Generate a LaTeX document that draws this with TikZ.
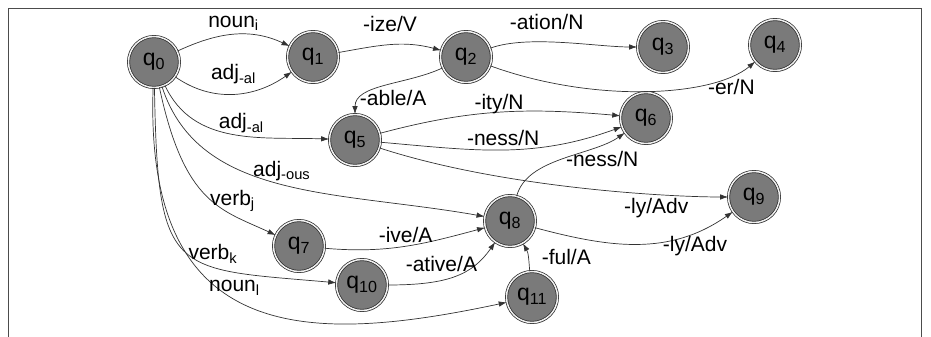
\documentclass[tikz,border=0pt]{standalone}
\usepackage{fontspec}
\setmainfont{Liberation Sans}
\usetikzlibrary{arrows.meta,shadows}

\begin{document}
\begin{tikzpicture}[x=1pt,y=1pt,font=\fontsize{21}{24}\selectfont,>={Latex[length=8pt,width=5.5pt]},
  state/.style={circle,draw=black!85,line width=0.7pt,double=gray!12,double distance=1.5pt,fill=black!52,minimum size=51pt,inner sep=0pt,font=\fontsize{23}{26}\selectfont,drop shadow={shadow xshift=0.5pt,shadow yshift=-1.5pt,opacity=0.35}},
  tr/.style={->,draw=black!80,line width=0.7pt}]
\useasboundingbox (0,0) rectangle (931,337);
\draw[black!70,line width=0.8pt] (8,0) |- (921,329) -- (921,0);
% states
\node[state] (q0) at (154,275) {q\textsubscript{0}};
\node[state] (q1) at (313,280) {q\textsubscript{1}};
\node[state] (q2) at (466,280) {q\textsubscript{2}};
\node[state] (q3) at (663,290) {q\textsubscript{3}};
\node[state] (q4) at (775,292) {q\textsubscript{4}};
\node[state] (q5) at (355,197) {q\textsubscript{5}};
\node[state] (q6) at (646,219) {q\textsubscript{6}};
\node[state] (q7) at (299,91) {q\textsubscript{7}};
\node[state] (q8) at (510,116) {q\textsubscript{8}};
\node[state] (q9) at (754,140) {q\textsubscript{9}};
\node[state] (q10) at (362,52) {q\textsubscript{10}};
\node[state] (q11) at (532,40) {q\textsubscript{11}};
% transitions out of q0
\draw[tr] (q0) to[out=25,in=155] node[above=0pt]{noun\textsubscript{i}} (q1);
\draw[tr] (q0) to[out=-35,in=215] node[above=6pt]{adj\textsubscript{-al}} (q1);
\draw[tr] (q0) to[out=-65,in=178] node[pos=0.55,above=-1pt]{adj\textsubscript{-al}} (q5);
\draw[tr] (q0) to[out=-72,in=170,out distance=120pt,in distance=150pt] node[pos=0.5,above]{adj\textsubscript{-ous}} (q8);
\draw[tr] (q0) to[out=-78,in=155,out distance=120pt,in distance=60pt] node[pos=0.5,right,yshift=-5pt]{verb\textsubscript{j}} (q7);
\draw[tr] (q0) to[out=-89,in=175,out distance=190pt,in distance=165pt] node[pos=0.65,above]{verb\textsubscript{k}} (q10);
\draw[tr] (q0) to[out=-92,in=192,out distance=260pt,in distance=200pt] node[pos=0.45,above]{noun\textsubscript{l}} (q11);
% suffixes
\draw[tr] (q1) to[out=10,in=165] node[above=10pt]{-ize/V} (q2);
\draw[tr] (q2) to[out=20,in=180,out distance=40pt,in distance=40pt] node[pos=0.4,above=8pt]{-ation/N} (q3);
\draw[tr] (q2) to[out=-20,in=220,out distance=110pt,in distance=55pt] node[pos=0.85,below]{-er/N} (q4);
\draw[tr] (q2) to[out=205,in=90,out distance=40pt,in distance=30pt] node[below,xshift=8pt]{-able/A} (q5);
\draw[tr] (q5) to[out=15,in=175] node[above=-5pt]{-ity/N} (q6);
\draw[tr] (q5) to[out=-5,in=200] node[above]{-ness/N} (q6);
\draw[tr] (q5) to[out=-18,in=180,out distance=130pt,in distance=60pt] node[pos=0.72,below]{-ly/Adv} (q9);
\draw[tr] (q7) to[out=-5,in=195] node[above]{-ive/A} (q8);
\draw[tr] (q10) to[out=0,in=235,out distance=60pt,in distance=40pt] node[above,xshift=-14pt]{-ative/A} (q8);
\draw[tr] (q11) to[out=95,in=-60] node[right=10pt]{-ful/A} (q8);
\draw[tr] (q8) to[out=75,in=215,out distance=40pt,in distance=40pt] node[right]{-ness/N} (q6);
\draw[tr] (q8) to[out=-15,in=215] node[pos=0.8,below]{-ly/Adv} (q9);
\end{tikzpicture}
\end{document}
